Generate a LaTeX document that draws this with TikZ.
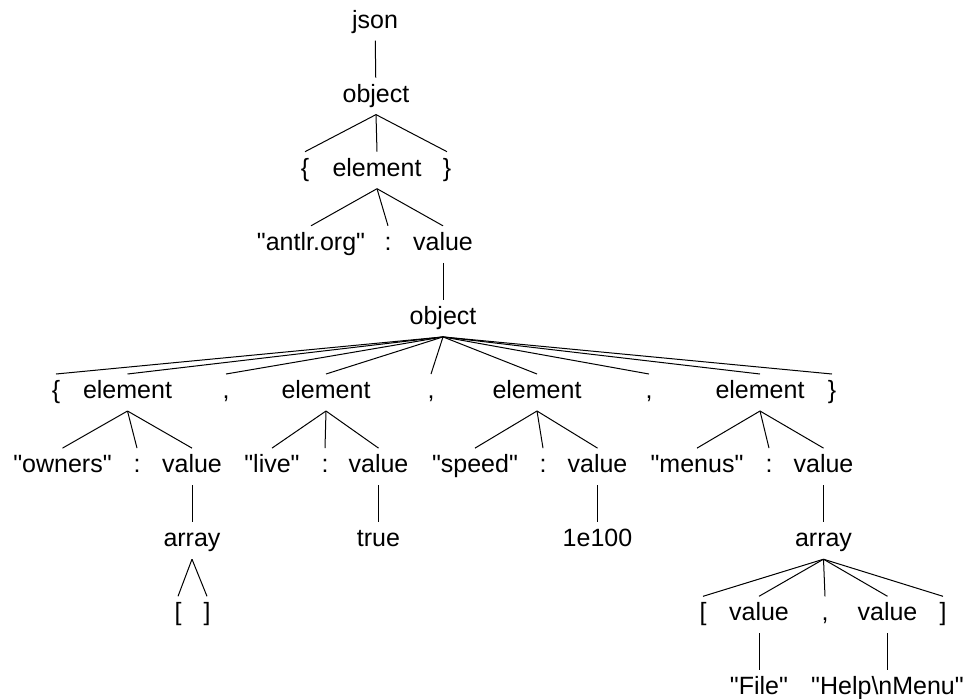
\documentclass[tikz,border=0pt]{standalone}
\usepackage{fontspec}
\setmainfont{Liberation Sans}
\usetikzlibrary{positioning}
\newcommand{\qt}[1]{\textquotedbl#1\textquotedbl}

\begin{document}
\begin{tikzpicture}[x=0.5pt, y=-0.5pt, line width=0.5pt,
  every node/.style={inner xsep=0pt, inner ysep=3pt, text height=9pt, text depth=3pt,
    font=\fontsize{12.5}{15}\selectfont}]
\useasboundingbox (0,0) rectangle (969,698);

\def\ya{22}
\def\yb{96.1}
\def\yc{170.2}
\def\yd{244.3}
\def\ye{318.4}
\def\yf{392.5}
\def\yg{466.6}
\def\yh{540.7}
\def\yi{614.8}
\def\yj{688.9}

% top part
\node(json) at (375, \ya) {json};
\node(obj) at (376, \yb) {object};
\node(lbr) at (305, \yc) {\{};
\node(elem) at (377, \yc) {element};
\node(rbr) at (447, \yc) {\}};
\node(key) at (311, \yd) {\qt{antlr.org}};
\node(colon) at (388, \yd) {:};
\node(val) at (443, \yd) {value};
\node(obj2) at (443, \ye) {object};
\draw (json) -- (obj);
\draw (obj.south) -- (lbr.north);
\draw (obj.south) -- (elem.north);
\draw (obj.south) -- (rbr.north);
\draw (elem.south) -- (key.north);
\draw (elem.south) -- (colon.north);
\draw (elem.south) -- (val.north);
\draw (val) -- (obj2);

% members of the inner object
\node(lbr2) at (56, \yf) {\{};
\node(el1) at (127.5, \yf) {element};
\node(cm1) at (226, \yf) {,};
\node(el2) at (326, \yf) {element};
\node(cm2) at (431, \yf) {,};
\node(el3) at (537, \yf) {element};
\node(cm3) at (649, \yf) {,};
\node(el4) at (760, \yf) {element};
\node(rbr2) at (832, \yf) {\}};
\foreach \c in {lbr2,el1,cm1,el2,cm2,el3,cm3,el4,rbr2}
  \draw (obj2.south) -- (\c.north);

\node(k1) at (62.5, \yg) {\qt{owners}};
\node(c1) at (137, \yg) {:};
\node(v1) at (192, \yg) {value};
\node(k2) at (272, \yg) {\qt{live}};
\node(c2) at (325, \yg) {:};
\node(v2) at (378.5, \yg) {value};
\node(k3) at (475, \yg) {\qt{speed}};
\node(c3) at (543, \yg) {:};
\node(v3) at (597.5, \yg) {value};
\node(k4) at (697, \yg) {\qt{menus}};
\node(c4) at (769, \yg) {:};
\node(v4) at (823.5, \yg) {value};
\foreach \p/\k/\c/\v in {el1/k1/c1/v1, el2/k2/c2/v2, el3/k3/c3/v3, el4/k4/c4/v4}{
  \draw (\p.south) -- (\k.north);
  \draw (\p.south) -- (\c.north);
  \draw (\p.south) -- (\v.north);
}

% values
\node(arr1) at (192, \yh) {array};
\node(tru) at (378.5, \yh) {true};
\node(num) at (597.5, \yh) {1e100};
\node(arr2) at (823.5, \yh) {array};
\draw (v1) -- (arr1);
\draw (v2) -- (tru);
\draw (v3) -- (num);
\draw (v4) -- (arr2);

\node(lb1) at (178, \yi) {[};
\node(rb1) at (207, \yi) {]};
\draw (arr1.south) -- (lb1.north);
\draw (arr1.south) -- (rb1.north);

\node(lb2) at (703, \yi) {[};
\node(av1) at (759, \yi) {value};
\node(cm4) at (825, \yi) {,};
\node(av2) at (887.5, \yi) {value};
\node(rb2) at (943, \yi) {]};
\foreach \c in {lb2,av1,cm4,av2,rb2}
  \draw (arr2.south) -- (\c.north);

\node(file) at (759, \yj) {\qt{File}};
\node(help) at (887.5, \yj) {\qt{Help\textbackslash nMenu}};
\draw (av1) -- (file);
\draw (av2) -- (help);
\end{tikzpicture}
\end{document}
